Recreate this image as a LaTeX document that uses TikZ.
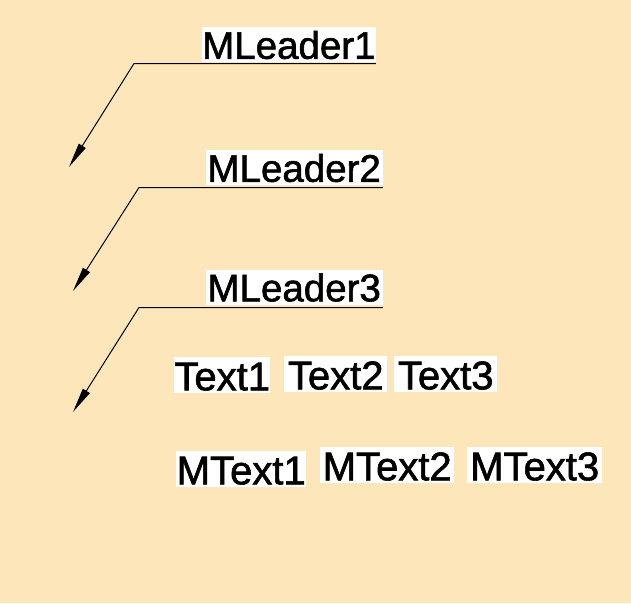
\documentclass[tikz,border=0pt]{standalone}
\usepackage{fontspec}
\setmainfont[FakeBold=1.5]{Liberation Sans}
\usetikzlibrary{arrows.meta}
\definecolor{bgtan}{RGB}{253,231,186}
\tikzset{
  lbl/.style={fill=white, inner xsep=0pt, inner ysep=0pt, text height=31.5pt, text depth=3.5pt,
    font=\fontsize{38.5}{42}\selectfont, anchor=south west},
  tlbl/.style={fill=white, inner xsep=0pt, inner ysep=0pt, text height=33pt, text depth=2.5pt,
    font=\fontsize{40}{44}\selectfont, anchor=south west},
  leader/.style={draw=black, line width=1pt, -{Triangle[length=25pt,width=8pt]}}
}
\begin{document}
\begin{tikzpicture}[x=1pt,y=-1pt]
\fill[bgtan] (0,0) rectangle (631,603);
\useasboundingbox (0,0) rectangle (631,603);
% multileaders
\node[lbl, minimum width=171pt] (ml1) at (202,62.5) {MLeader1};
\node[lbl, minimum width=177pt] (ml2) at (205.5,185.5) {MLeader2};
\node[lbl, minimum width=177pt] (ml3) at (205.5,305) {MLeader3};
\coordinate (k1) at (134,63.5);
\coordinate (t1) at (69,167);
\coordinate (k2) at (139,187.5);
\coordinate (t2) at (73,291);
\coordinate (k3) at (139,307.5);
\coordinate (t3) at (73,412);
\draw[leader] (ml1.south east |- k1) -- (k1) -- (t1);
\draw[leader] (ml2.south east |- k2) -- (k2) -- (t2);
\draw[leader] (ml3.south east |- k3) -- (k3) -- (t3);
% texts
\node[tlbl, minimum width=96pt] (tx1) at (174,393) {Text1};
\node[tlbl, minimum width=103pt] (tx2) at (284,392) {Text2};
\node[tlbl, minimum width=103pt] (tx3) at (394,392) {Text3};
% mtexts
\node[tlbl, minimum width=130pt] (mt1) at (176,487) {MText1};
\node[tlbl, minimum width=134pt] (mt2) at (320,483) {MText2};
\node[tlbl, minimum width=135pt] (mt3) at (467,483) {MText3};
\end{tikzpicture}
\end{document}
